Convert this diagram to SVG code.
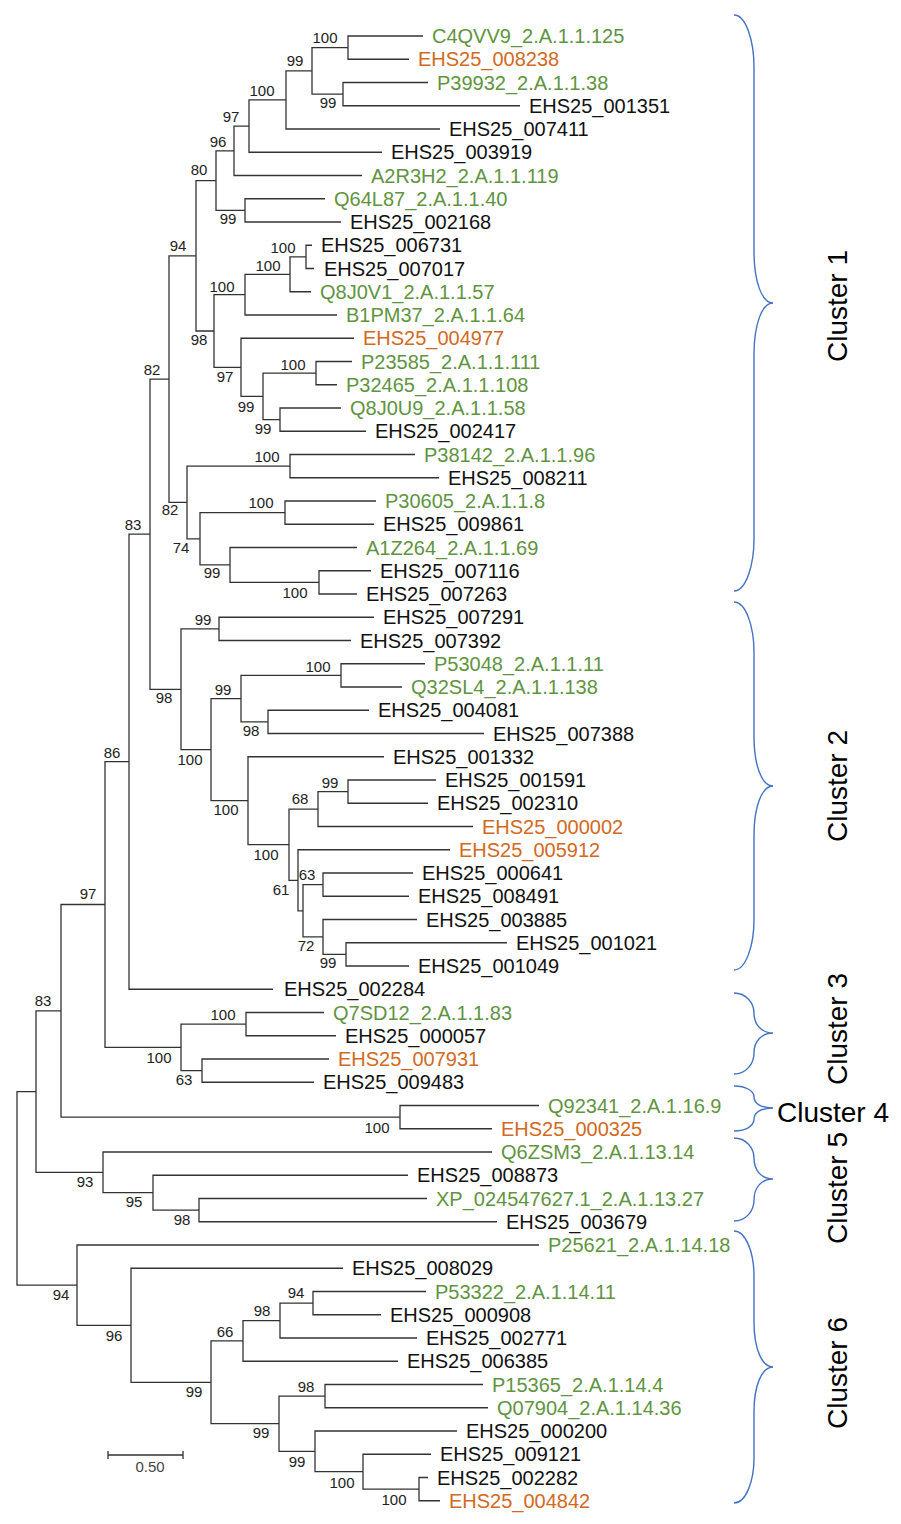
<svg xmlns="http://www.w3.org/2000/svg" width="901" height="1524" viewBox="0 0 901 1524">
<style>
.br{fill:none;stroke:#333;stroke-width:1.3}
.lf{font-family:"Liberation Sans",Arial,sans-serif;font-size:20px;fill:#111}
.g{fill:#5f9440}
.o{fill:#d2691e}
.bs{font-family:"Liberation Sans",Arial,sans-serif;font-size:15px;fill:#222;text-anchor:middle}
.brace{fill:none;stroke:#4472c4;stroke-width:1.4}
.cl{font-family:"Liberation Sans",Arial,sans-serif;font-size:28px;fill:#000}
</style>
<rect width="901" height="1524" fill="#fff"/>
<g id="connectors" class="br">
<path d="M423,36 H348 V59.25 H409"/>
<path d="M428,82.5 H343 V105.75 H520"/>
<path d="M348,47.6 H312 V94.1 H343"/>
<path d="M312,70.9 H286 V129 H440"/>
<path d="M286,99.9 H249 V152.25 H382"/>
<path d="M249,126.1 H234 V175.5 H362"/>
<path d="M325,198.75 H245 V222 H341"/>
<path d="M234,150.8 H216 V210.4 H245"/>
<path d="M312,245.25 H306 V268.5 H314"/>
<path d="M306,256.9 H290 V291.75 H311"/>
<path d="M290,274.3 H245 V315 H337"/>
<path d="M352,361.5 H316 V384.75 H337"/>
<path d="M341,408 H280 V431.25 H366"/>
<path d="M316,373.1 H263 V419.6 H280"/>
<path d="M354,338.25 H241 V396.4 H263"/>
<path d="M245,294.7 H214 V367.3 H241"/>
<path d="M216,180.6 H196 V331 H214"/>
<path d="M415,454.5 H290 V477.75 H439"/>
<path d="M376,501 H285 V524.25 H374"/>
<path d="M371,570.75 H319 V594 H357"/>
<path d="M357,547.5 H230 V582.4 H319"/>
<path d="M285,512.6 H200 V564.9 H230"/>
<path d="M290,466.1 H187 V538.8 H200"/>
<path d="M196,255.8 H169 V502.4 H187"/>
<path d="M374,617.25 H219 V640.5 H351"/>
<path d="M425,663.75 H341 V687 H402"/>
<path d="M369,710.25 H268 V733.5 H484"/>
<path d="M341,675.4 H241 V721.9 H268"/>
<path d="M436,780 H348 V803.25 H428"/>
<path d="M348,791.6 H318 V826.5 H473"/>
<path d="M413,873 H323 V896.25 H409"/>
<path d="M507,942.75 H346 V966 H409"/>
<path d="M417,919.5 H323 V954.4 H346"/>
<path d="M323,884.6 H303 V936.9 H323"/>
<path d="M450,849.75 H298 V910.8 H303"/>
<path d="M318,809.1 H289 V880.3 H298"/>
<path d="M384,756.75 H248 V844.7 H289"/>
<path d="M241,698.6 H211 V800.7 H248"/>
<path d="M219,628.9 H181 V749.7 H211"/>
<path d="M169,379.1 H150 V689.3 H181"/>
<path d="M150,534.2 H129 V989.25 H273"/>
<path d="M324,1012.5 H246 V1035.75 H336"/>
<path d="M329,1059 H202 V1082.25 H314"/>
<path d="M246,1024.1 H181 V1070.6 H202"/>
<path d="M129,761.7 H105 V1047.4 H181"/>
<path d="M539,1105.5 H400 V1128.75 H492"/>
<path d="M105,904.5 H61 V1117.1 H400"/>
<path d="M427,1198.5 H199 V1221.75 H497"/>
<path d="M408,1175.25 H153 V1210.1 H199"/>
<path d="M492,1152 H103 V1192.7 H153"/>
<path d="M61,1010.8 H36 V1172.3 H103"/>
<path d="M426,1291.5 H313 V1314.75 H381"/>
<path d="M313,1303.1 H280 V1338 H417"/>
<path d="M280,1320.6 H243 V1361.25 H398"/>
<path d="M483,1384.5 H325 V1407.75 H488"/>
<path d="M428,1477.5 H419 V1500.75 H440"/>
<path d="M431,1454.25 H363 V1489.1 H419"/>
<path d="M457,1431 H315 V1471.7 H363"/>
<path d="M325,1396.1 H279 V1451.3 H315"/>
<path d="M243,1340.9 H211 V1423.7 H279"/>
<path d="M343,1268.25 H131 V1382.3 H211"/>
<path d="M539,1245 H77 V1325.3 H131"/>
<path d="M36,1091.6 H17 V1285.1 H77"/>
</g>
<g id="leaves" class="lf">
<text id="leaf1" class="g" x="432" y="43">C4QVV9_2.A.1.1.125</text>
<text id="leaf2" class="o" x="418" y="66">EHS25_008238</text>
<text id="leaf3" class="g" x="437" y="89.5">P39932_2.A.1.1.38</text>
<text id="leaf4" x="529" y="113">EHS25_001351</text>
<text id="leaf5" x="449" y="136">EHS25_007411</text>
<text id="leaf6" x="391" y="159">EHS25_003919</text>
<text id="leaf7" class="g" x="371" y="182.5">A2R3H2_2.A.1.1.119</text>
<text id="leaf8" class="g" x="334" y="206">Q64L87_2.A.1.1.40</text>
<text id="leaf9" x="350" y="229">EHS25_002168</text>
<text id="leaf10" x="321" y="252">EHS25_006731</text>
<text id="leaf11" x="324" y="275.5">EHS25_007017</text>
<text id="leaf12" class="g" x="320" y="299">Q8J0V1_2.A.1.1.57</text>
<text id="leaf13" class="g" x="346" y="322">B1PM37_2.A.1.1.64</text>
<text id="leaf14" class="o" x="363" y="345">EHS25_004977</text>
<text id="leaf15" class="g" x="361" y="368.5">P23585_2.A.1.1.111</text>
<text id="leaf16" class="g" x="346" y="392">P32465_2.A.1.1.108</text>
<text id="leaf17" class="g" x="350" y="415">Q8J0U9_2.A.1.1.58</text>
<text id="leaf18" x="375" y="438">EHS25_002417</text>
<text id="leaf19" class="g" x="424" y="461.5">P38142_2.A.1.1.96</text>
<text id="leaf20" x="448" y="485">EHS25_008211</text>
<text id="leaf21" class="g" x="385" y="508">P30605_2.A.1.1.8</text>
<text id="leaf22" x="383" y="531">EHS25_009861</text>
<text id="leaf23" class="g" x="366" y="554.5">A1Z264_2.A.1.1.69</text>
<text id="leaf24" x="380" y="578">EHS25_007116</text>
<text id="leaf25" x="366" y="601">EHS25_007263</text>
<text id="leaf26" x="383" y="624">EHS25_007291</text>
<text id="leaf27" x="360" y="647.5">EHS25_007392</text>
<text id="leaf28" class="g" x="434" y="671">P53048_2.A.1.1.11</text>
<text id="leaf29" class="g" x="411" y="694">Q32SL4_2.A.1.1.138</text>
<text id="leaf30" x="378" y="717">EHS25_004081</text>
<text id="leaf31" x="493" y="740.5">EHS25_007388</text>
<text id="leaf32" x="393" y="764">EHS25_001332</text>
<text id="leaf33" x="445" y="787">EHS25_001591</text>
<text id="leaf34" x="437" y="810">EHS25_002310</text>
<text id="leaf35" class="o" x="482" y="833.5">EHS25_000002</text>
<text id="leaf36" class="o" x="459" y="857">EHS25_005912</text>
<text id="leaf37" x="422" y="880">EHS25_000641</text>
<text id="leaf38" x="418" y="903">EHS25_008491</text>
<text id="leaf39" x="426" y="926.5">EHS25_003885</text>
<text id="leaf40" x="516" y="950">EHS25_001021</text>
<text id="leaf41" x="418" y="973">EHS25_001049</text>
<text id="leaf42" x="284" y="996">EHS25_002284</text>
<text id="leaf43" class="g" x="333" y="1019.5">Q7SD12_2.A.1.1.83</text>
<text id="leaf44" x="345" y="1043">EHS25_000057</text>
<text id="leaf45" class="o" x="338" y="1066">EHS25_007931</text>
<text id="leaf46" x="323" y="1089">EHS25_009483</text>
<text id="leaf47" class="g" x="548" y="1112.5">Q92341_2.A.1.16.9</text>
<text id="leaf48" class="o" x="501" y="1136">EHS25_000325</text>
<text id="leaf49" class="g" x="501" y="1159">Q6ZSM3_2.A.1.13.14</text>
<text id="leaf50" x="417" y="1182">EHS25_008873</text>
<text id="leaf51" class="g" x="436" y="1205.5">XP_024547627.1_2.A.1.13.27</text>
<text id="leaf52" x="506" y="1229">EHS25_003679</text>
<text id="leaf53" class="g" x="548" y="1252">P25621_2.A.1.14.18</text>
<text id="leaf54" x="352" y="1275">EHS25_008029</text>
<text id="leaf55" class="g" x="435" y="1298.5">P53322_2.A.1.14.11</text>
<text id="leaf56" x="390" y="1322">EHS25_000908</text>
<text id="leaf57" x="426" y="1345">EHS25_002771</text>
<text id="leaf58" x="407" y="1368">EHS25_006385</text>
<text id="leaf59" class="g" x="492" y="1391.5">P15365_2.A.1.14.4</text>
<text id="leaf60" class="g" x="497" y="1415">Q07904_2.A.1.14.36</text>
<text id="leaf61" x="466" y="1438">EHS25_000200</text>
<text id="leaf62" x="440" y="1461">EHS25_009121</text>
<text id="leaf63" x="437" y="1484.5">EHS25_002282</text>
<text id="leaf64" class="o" x="449" y="1508">EHS25_004842</text>
</g>
<g id="bootstrap" class="bs">
<text x="325" y="43">100</text>
<text x="295" y="66">99</text>
<text x="328" y="108">99</text>
<text x="262" y="96">100</text>
<text x="231" y="122">97</text>
<text x="218" y="147">96</text>
<text x="199" y="175">80</text>
<text x="228" y="224">99</text>
<text x="178" y="251">94</text>
<text x="283" y="253">100</text>
<text x="268" y="271">100</text>
<text x="222" y="292">100</text>
<text x="199" y="345">98</text>
<text x="293" y="370">100</text>
<text x="225" y="382">97</text>
<text x="246" y="412">99</text>
<text x="263" y="434">99</text>
<text x="152" y="375">82</text>
<text x="267" y="462">100</text>
<text x="261" y="508">100</text>
<text x="170" y="515">82</text>
<text x="181" y="553">74</text>
<text x="212" y="578">99</text>
<text x="295" y="598">100</text>
<text x="133" y="530">83</text>
<text x="203" y="625">99</text>
<text x="164" y="703">98</text>
<text x="318" y="672">100</text>
<text x="223" y="695">99</text>
<text x="251" y="736">98</text>
<text x="190" y="765">100</text>
<text x="330" y="788">99</text>
<text x="300" y="804">68</text>
<text x="226" y="815">100</text>
<text x="266" y="860">100</text>
<text x="307" y="880">63</text>
<text x="281" y="895">61</text>
<text x="306" y="951">72</text>
<text x="328" y="968">99</text>
<text x="112" y="758">86</text>
<text x="88" y="899">97</text>
<text x="223" y="1020">100</text>
<text x="159" y="1063">100</text>
<text x="184" y="1085">63</text>
<text x="43" y="1006">83</text>
<text x="377" y="1133">100</text>
<text x="85" y="1187">93</text>
<text x="134" y="1207">95</text>
<text x="182" y="1225">98</text>
<text x="61" y="1300">94</text>
<text x="114" y="1341">96</text>
<text x="296" y="1298">94</text>
<text x="262" y="1316">98</text>
<text x="225" y="1337">66</text>
<text x="194" y="1397">99</text>
<text x="306" y="1392">98</text>
<text x="261" y="1438">99</text>
<text x="297" y="1467">99</text>
<text x="342" y="1488">100</text>
<text x="394" y="1505">100</text>
</g>
<g id="scalebar">
<path class="br" d="M108,1455 H183 M108,1451 V1459 M183,1451 V1459"/>
<text class="bs" x="150" y="1472" style="fill:#444">0.50</text>
</g>
<g id="cluster1">
<path class="brace" d="M734,15 C746,15 754,41 754,67 L754,251 C754,282 762,303 773,303 C762,303 754,324 754,355 L754,539 C754,565 746,591 734,591"/>
<text class="cl" text-anchor="middle" transform="translate(847,306) rotate(-90)">Cluster 1</text>
</g>
<g id="cluster2">
<path class="brace" d="M734,602 C746,602 754,627 754,652 L754,736 C754,766 762,786 773,786 C762,786 754,806 754,836 L754,920 C754,945 746,970 734,970"/>
<text class="cl" text-anchor="middle" transform="translate(847,786) rotate(-90)">Cluster 2</text>
</g>
<g id="cluster3">
<path class="brace" d="M734,993 C746,993 754,1003 754,1013 C754,1025 762,1033 773,1033 C762,1033 754,1041 754,1053 C754,1064 746,1074 734,1074"/>
<text class="cl" text-anchor="middle" transform="translate(847,1029) rotate(-90)">Cluster 3</text>
</g>
<g id="cluster4">
<path class="brace" d="M734,1086 C746,1086 754,1091 754,1097 C754,1104 762,1108 773,1108 C762,1108 754,1112 754,1119 C754,1126 746,1131 734,1131"/>
<text class="cl" x="777" y="1122">Cluster 4</text>
</g>
<g id="cluster5">
<path class="brace" d="M734,1138 C746,1138 754,1148 754,1158 C754,1171 762,1179 773,1179 C762,1179 754,1187 754,1200 C754,1211 746,1221 734,1221"/>
<text class="cl" text-anchor="middle" transform="translate(847,1188) rotate(-90)">Cluster 5</text>
</g>
<g id="cluster6">
<path class="brace" d="M734,1231 C746,1231 754,1253 754,1276 L754,1322 C754,1349 762,1367 773,1367 C762,1367 754,1385 754,1412 L754,1458 C754,1481 746,1503 734,1503"/>
<text class="cl" text-anchor="middle" transform="translate(847,1373) rotate(-90)">Cluster 6</text>
</g>
</svg>
